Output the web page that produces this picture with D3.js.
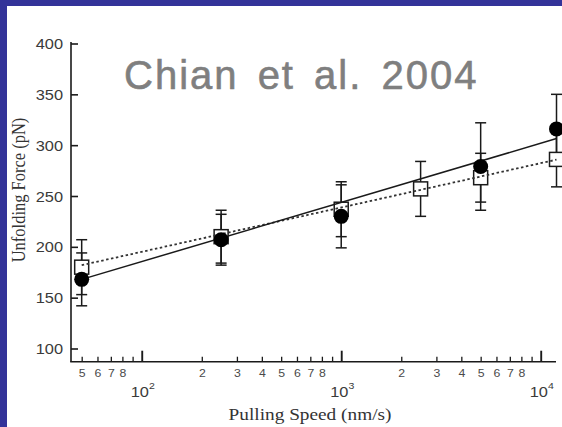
<!DOCTYPE html>
<html>
<head>
<meta charset="utf-8">
<script src="https://cdn.jsdelivr.net/npm/d3@7"></script>
<style>
  html, body { margin: 0; padding: 0; background: #fff; }
  svg { display: block; }
</style>
</head>
<body>
<div id="chart"></div>
<script>
// Pulling speed (nm/s) and unfolding force (pN) for the two data sets
const speeds = [50, 250, 1000, 2500, 5000, 12000];
const forceFilled = [168, 207, 230, null, 279, 316];
const errFilled = [26, 25, 31, null, 43, 34];
const forceOpen = [180, 210, 237, 257, 268, 286];
const errOpen = [27, 26, 27, 27, 24, 27];

// Linear fits in log10(speed): [intercept, slope per decade]
const fitFilled = [69.1, 58.2];
const fitOpen = [107.9, 43.6];

const yTicks = [100, 150, 200, 250, 300, 350, 400];
const xDecades = [100, 1000, 10000];
const xMinor = [50, 60, 70, 80, 90,
                200, 300, 400, 500, 600, 700, 800, 900,
                2000, 3000, 4000, 5000, 6000, 7000, 8000, 9000];
const titleText = "Chian et al. 2004";
const xTitle = "Pulling Speed (nm/s)";
const yTitle = "Unfolding Force (pN)";

const W = 562, H = 427;
const SX = 1.17; // horizontal stretch of the figure's text

const svg = d3.select("#chart").append("svg")
  .attr("width", W).attr("height", H);

svg.append("rect").attr("width", W).attr("height", H).attr("fill", "#fff");
// slide frame
svg.append("rect").attr("x", 0).attr("y", 0).attr("width", W).attr("height", 6).attr("fill", "#333399");
svg.append("rect").attr("x", 0).attr("y", 0).attr("width", 7).attr("height", H).attr("fill", "#333399");

const x = d3.scaleLog().domain([44.2, 11930]).range([71, 556]);
const y = d3.scaleLinear().domain([100, 400]).range([348.5, 43.5]);
const yMin = 87, yMax = 401.5;

const ink = "#1a1a1a";

// axis lines
svg.append("line")
  .attr("x1", x(44.2)).attr("x2", x(44.2))
  .attr("y1", y(yMin)).attr("y2", y(yMax))
  .attr("stroke", ink).attr("stroke-width", 1.6);
svg.append("line")
  .attr("x1", x(44.2) - 0.8).attr("x2", x(11930))
  .attr("y1", y(yMin)).attr("y2", y(yMin))
  .attr("stroke", ink).attr("stroke-width", 1.6);

// y axis ticks and labels
const yAxis = d3.axisLeft(y).tickValues(yTicks).tickSize(-7).tickPadding(0)
  .tickFormat(d3.format("d"));
const gy = svg.append("g").attr("transform", `translate(${x(44.2)},0)`).call(yAxis);
gy.select(".domain").remove();
gy.selectAll(".tick line").attr("stroke", ink).attr("stroke-width", 1.6);
gy.selectAll(".tick text")
  .attr("x", -8 / SX).attr("dy", null).attr("y", 5)
  .attr("transform", `scale(${SX},1)`)
  .attr("font-family", "'Liberation Sans', Arial, sans-serif")
  .attr("font-size", 14).attr("fill", "#3a3a3a").attr("text-anchor", "end");

// x axis ticks: minor with digit labels, decades longer
const xAxis = d3.axisBottom(x).tickValues(xMinor.concat(xDecades)).tickSize(-5).tickPadding(0)
  .tickFormat(d => {
    if (xDecades.includes(d)) return "";
    const lead = Math.round(d / Math.pow(10, Math.floor(Math.log10(d))));
    return lead === 9 ? "" : String(lead);
  });
const gx = svg.append("g").attr("transform", `translate(0,${y(yMin)})`).call(xAxis);
gx.select(".domain").remove();
gx.selectAll(".tick line")
  .attr("stroke", ink)
  .attr("stroke-width", d => xDecades.includes(d) ? 1.9 : 1.3)
  .attr("y2", d => xDecades.includes(d) ? -11 : -5);
gx.selectAll(".tick text")
  .attr("dy", null).attr("y", 15.5)
  .attr("transform", `scale(${SX},1)`)
  .attr("x", 0)
  .attr("font-family", "'Liberation Sans', Arial, sans-serif")
  .attr("font-size", 10.5).attr("fill", "#4a4a4a").attr("text-anchor", "middle");

// decade labels 10^n
const exps = xDecades.map(d => Math.round(Math.log10(d)));
const dec = svg.append("g").selectAll("g").data(xDecades).join("g")
  .attr("transform", d => `translate(${x(d) + 1},${y(yMin) + 35.5}) scale(${SX},1)`);
const decText = dec.append("text")
  .attr("text-anchor", "middle")
  .attr("font-family", "'Liberation Sans', Arial, sans-serif")
  .attr("fill", "#3a3a3a");
decText.append("tspan").attr("font-size", 14).text("10");
decText.append("tspan").attr("font-size", 9).attr("dy", -8)
  .text((d, i) => String(exps[i]));

// axis titles
svg.append("text")
  .attr("transform", `translate(310,420) scale(${SX},1)`)
  .attr("text-anchor", "middle")
  .attr("font-family", "'Liberation Serif', 'Times New Roman', serif")
  .attr("font-size", 16.5).attr("fill", "#333")
  .text(xTitle);
svg.append("text")
  .attr("transform", `translate(25,190) rotate(-90) scale(1,${SX})`)
  .attr("text-anchor", "middle")
  .attr("font-family", "'Liberation Serif', 'Times New Roman', serif")
  .attr("font-size", 16.5).attr("fill", "#333")
  .text(yTitle);

// fitted lines
const lineGen = d3.line().x(d => x(d[0])).y(d => y(d[1]));
const fitPts = fit => [speeds[0], speeds[speeds.length - 1]]
  .map(s => [s, fit[0] + fit[1] * Math.log10(s)]);

// error bars
function errorBars(force, err) {
  const idx = speeds.map((s, i) => i).filter(i => force[i] != null);
  const g = svg.append("g").attr("stroke", ink).attr("stroke-width", 1.5);
  g.selectAll("line.v").data(idx).join("line")
    .attr("x1", i => x(speeds[i])).attr("x2", i => x(speeds[i]))
    .attr("y1", i => y(force[i] - err[i])).attr("y2", i => y(force[i] + err[i]));
  [-1, 1].forEach(sgn => {
    g.selectAll(null).data(idx).join("line")
      .attr("x1", i => x(speeds[i]) - 5.5).attr("x2", i => x(speeds[i]) + 5.5)
      .attr("y1", i => y(force[i] + sgn * err[i])).attr("y2", i => y(force[i] + sgn * err[i]));
  });
}
errorBars(forceOpen, errOpen);
errorBars(forceFilled, errFilled);

// open squares
svg.append("g").selectAll("rect")
  .data(speeds.map((s, i) => i).filter(i => forceOpen[i] != null)).join("rect")
  .attr("x", i => x(speeds[i]) - 7).attr("y", i => y(forceOpen[i]) - 7)
  .attr("width", 14).attr("height", 14)
  .attr("fill", "#fff").attr("stroke", ink).attr("stroke-width", 1.5);

svg.append("path").attr("d", lineGen(fitPts(fitOpen)))
  .attr("fill", "none").attr("stroke", "#333").attr("stroke-width", 1.8)
  .attr("stroke-dasharray", "2.5,2.5");
svg.append("path").attr("d", lineGen(fitPts(fitFilled)))
  .attr("fill", "none").attr("stroke", ink).attr("stroke-width", 1.5);

// filled circles
svg.append("g").selectAll("circle")
  .data(speeds.map((s, i) => i).filter(i => forceFilled[i] != null)).join("circle")
  .attr("cx", i => x(speeds[i])).attr("cy", i => y(forceFilled[i]))
  .attr("r", 7.5).attr("fill", "#000");

// title
svg.append("text")
  .attr("x", 124).attr("y", 89)
  .attr("font-family", "'Liberation Sans', Arial, sans-serif")
  .attr("font-size", 40).attr("letter-spacing", 2).attr("word-spacing", 6)
  .attr("fill", "#7f7f7f").attr("stroke", "#7f7f7f").attr("stroke-width", 0.6)
  .text(titleText);
</script>
</body>
</html>
